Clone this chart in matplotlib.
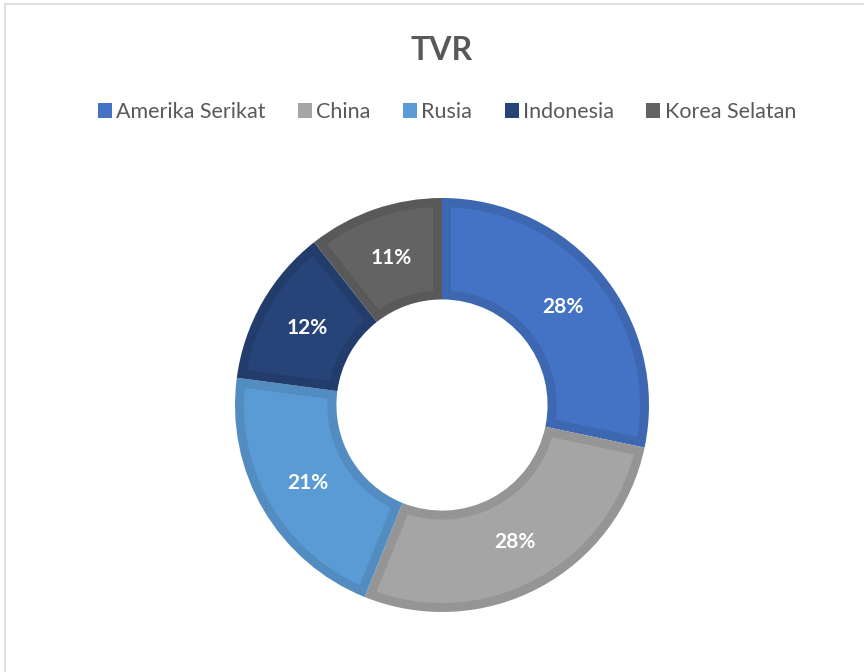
import matplotlib
matplotlib.use("Agg")
import matplotlib.pyplot as plt
import numpy as np
from matplotlib.patches import Rectangle, Polygon

plt.rcParams["font.family"] = ["Lato", "DejaVu Sans"]

# share per country
countries = ["Amerika Serikat", "China", "Rusia", "Indonesia", "Korea Selatan"]
shares = [28.3, 27.8, 21.0, 12.3, 10.6]
fill_colors = ["#4472C4", "#A5A5A5", "#5B9BD5", "#264478", "#636363"]
edge_colors = ["#3D67B0", "#959595", "#528CC0", "#223D6C", "#595959"]

W, H = 864, 672
fig = plt.figure(figsize=(W / 100, H / 100), dpi=100)

# chart-area border (only top and left edges are visible in the crop)
fig.add_artist(Rectangle((5 / W, -0.1), 1.2, 1.1 - 4 / H, transform=fig.transFigure,
                         fill=False, edgecolor="#D9D9D9", linewidth=1.2))

cx, cy, r = 442, H - 405, 207
ax = fig.add_axes([(cx - r) / W, (cy - r) / H, 2 * r / W, 2 * r / H])

# the wedges themselves carry the darker "border" colour; a lighter inset
# sector is drawn on top so the outline sits fully inside each slice
wedges, _, autotexts = ax.pie(
    shares, colors=edge_colors, startangle=90, counterclock=False,
    radius=1.0, autopct="%.0f%%", pctdistance=0.75,
    wedgeprops=dict(width=0.49, linewidth=0),
    textprops=dict(color="white", fontsize=15, fontweight="bold"),
)
ax.set_xlim(-1, 1)
ax.set_ylim(-1, 1)
ax.set_aspect("equal")


def inset_sector(w, d):
    r_out, r_in = w.r - d, w.r - w.width + d
    outer = np.linspace(np.radians(w.theta1) + np.arcsin(d / r_out),
                        np.radians(w.theta2) - np.arcsin(d / r_out), 100)
    inner = np.linspace(np.radians(w.theta2) - np.arcsin(d / r_in),
                        np.radians(w.theta1) + np.arcsin(d / r_in), 100)
    pts = np.vstack([np.column_stack([r_out * np.cos(outer), r_out * np.sin(outer)]),
                     np.column_stack([r_in * np.cos(inner), r_in * np.sin(inner)])])
    return pts


border = 9 / r  # ~9px outline in data units
for w, fc in zip(wedges, fill_colors):
    ax.add_patch(Polygon(inset_sector(w, border), closed=True, facecolor=fc,
                         edgecolor="none", zorder=w.get_zorder()))
for t in autotexts:
    t.set_zorder(5)

fig.text(442 / W, 1 - 50 / H, "TVR", ha="center", va="center",
         fontsize=23, fontweight="bold", color="#595959")

leg = fig.legend(wedges, countries, loc="center", bbox_to_anchor=(447 / W, 1 - 112 / H),
                 ncol=5, frameon=False, fontsize=15.5, labelcolor="#595959",
                 handlelength=0.65, handleheight=0.65, handletextpad=0.2, columnspacing=1.5)
for h, c in zip(leg.legend_handles, fill_colors):
    h.set_facecolor(c)

fig.savefig("out.png", dpi=100)
